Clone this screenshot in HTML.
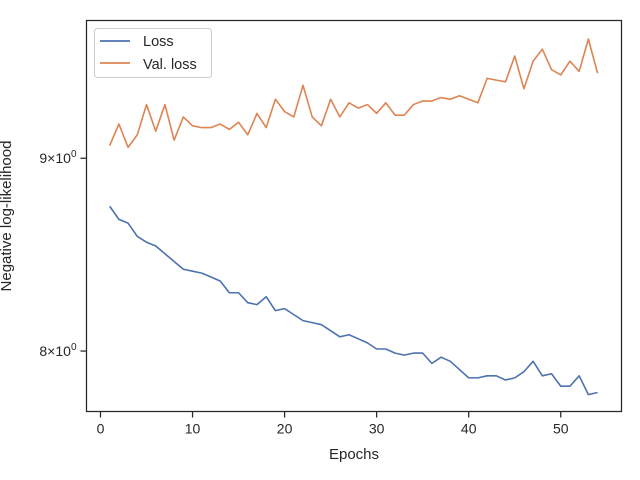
<!DOCTYPE html>
<html><head><meta charset="utf-8"><style>
body{margin:0;background:#fff;}
svg{display:block;font-family:"Liberation Sans","DejaVu Sans",sans-serif;}
</style></head><body>
<svg id="chart" width="640" height="480">
<rect x="0" y="0" width="640" height="480" fill="#fff"/>
<g id="xticks"></g>
<g id="yticks"></g>
<g id="series"></g>
<rect x="86.5" y="20.5" width="535" height="391" fill="none" stroke="#262626" stroke-width="1.25"/>
<text x="354" y="459" text-anchor="middle" font-size="15" fill="#262626">Epochs</text>
<text transform="translate(11,216) rotate(-90)" text-anchor="middle" font-size="15" fill="#262626">Negative log-likelihood</text>
<g>
<rect x="94.5" y="28.5" width="117" height="49" rx="3" fill="#fff" stroke="#ccc"/>
<line x1="100" y1="41" x2="130" y2="41" stroke="#4c72b0" stroke-width="1.8"/>
<text x="143" y="46" font-size="14.5" fill="#262626">Loss</text>
<line x1="100" y1="63" x2="130" y2="63" stroke="#dd8452" stroke-width="1.8"/>
<text x="143" y="69" font-size="14.5" fill="#262626">Val. loss</text>
</g>
</svg>
<script>
const lossValues=[8.74,8.67,8.65,8.58,8.55,8.53,8.49,8.45,8.41,8.40,8.39,8.37,8.35,8.29,8.29,8.24,8.23,8.27,8.20,8.21,8.18,8.15,8.14,8.13,8.10,8.07,8.08,8.06,8.04,8.01,8.01,7.99,7.98,7.99,7.99,7.94,7.97,7.95,7.91,7.87,7.87,7.88,7.88,7.86,7.87,7.90,7.95,7.88,7.89,7.83,7.83,7.88,7.79,7.80];
const valLossValues=[9.07,9.19,9.06,9.13,9.30,9.15,9.30,9.10,9.23,9.18,9.17,9.17,9.19,9.16,9.20,9.13,9.25,9.17,9.33,9.26,9.23,9.41,9.23,9.18,9.33,9.23,9.31,9.28,9.30,9.25,9.31,9.24,9.24,9.30,9.32,9.32,9.34,9.33,9.35,9.33,9.31,9.45,9.44,9.43,9.58,9.39,9.55,9.62,9.50,9.47,9.55,9.49,9.68,9.48];
const xTickLabels=[0,10,20,30,40,50];
const yTickValues=[8,9];
const X0=86.5,X1=621.5,Y0=411.5,Y1=20.5;
const xMin=-1.52,xMax=56.6,yMin=7.71,yMax=9.79;
const NS="http://www.w3.org/2000/svg";
function sx(v){return X0+(v-xMin)/(xMax-xMin)*(X1-X0);}
function sy(v){return Y0-(Math.log(v)-Math.log(yMin))/(Math.log(yMax)-Math.log(yMin))*(Y0-Y1);}
const xg=document.getElementById('xticks');
xTickLabels.forEach(t=>{
 const l=document.createElementNS(NS,'line');
 l.setAttribute('x1',sx(t));l.setAttribute('x2',sx(t));l.setAttribute('y1',Y0);l.setAttribute('y2',Y0+6);
 l.setAttribute('stroke','#262626');l.setAttribute('stroke-width','1.25');
 
 
 xg.appendChild(l);
 const tx=document.createElementNS(NS,'text');
 tx.setAttribute('x',sx(t));tx.setAttribute('y',Y0+22);tx.setAttribute('text-anchor','middle');
 tx.setAttribute('font-size','14');tx.setAttribute('fill','#262626');tx.textContent=t;
 
 
 xg.appendChild(tx);
});
const yg=document.getElementById('yticks');
yTickValues.forEach(t=>{
 const l=document.createElementNS(NS,'line');
 l.setAttribute('x1',X0-6);l.setAttribute('x2',X0);l.setAttribute('y1',sy(t));l.setAttribute('y2',sy(t));
 l.setAttribute('stroke','#262626');l.setAttribute('stroke-width','1.25');
 
 
 yg.appendChild(l);
 const tx=document.createElementNS(NS,'text');
 tx.setAttribute('x',X0-10);tx.setAttribute('y',sy(t)+5);tx.setAttribute('text-anchor','end');
 tx.setAttribute('font-size','14');tx.setAttribute('fill','#262626');
 tx.innerHTML=t+'\u00d710<tspan dy="-6" font-size="10">0</tspan>';
 
 
 yg.appendChild(tx);
});
const sg=document.getElementById('series');
function drawLine(vals,color,name){
 const p=document.createElementNS(NS,'polyline');
 p.setAttribute('points',vals.map((v,i)=>sx(i+1).toFixed(2)+','+sy(v).toFixed(2)).join(' '));
 p.setAttribute('fill','none');p.setAttribute('stroke',color);p.setAttribute('stroke-width','1.6');
 p.setAttribute('stroke-linejoin','round');
 
 
 sg.appendChild(p);
}
drawLine(lossValues,'#4c72b0','loss-line');
drawLine(valLossValues,'#dd8452','val-loss-line');
</script>
</body></html>
